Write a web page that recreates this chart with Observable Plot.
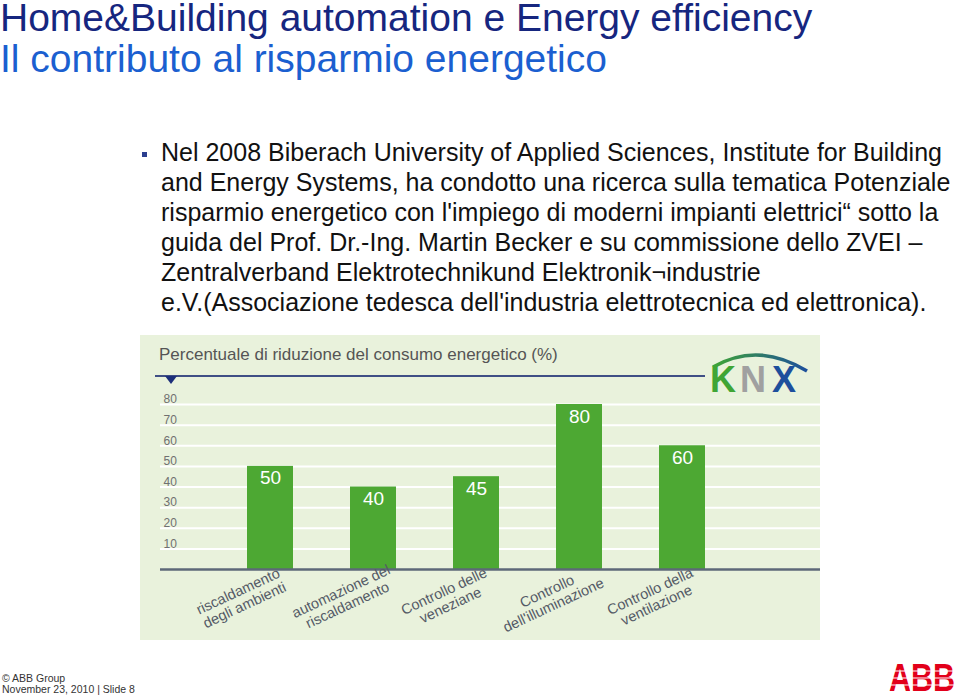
<!DOCTYPE html>
<html>
<head>
<meta charset="utf-8">
<script src="https://cdn.jsdelivr.net/npm/d3@7"></script>
<script src="https://cdn.jsdelivr.net/npm/@observablehq/plot@0.6"></script>
<style>
  html, body { margin: 0; padding: 0; background: #fff; }
  body { width: 960px; height: 697px; position: relative; overflow: hidden; font-family: "Liberation Sans", Arial, sans-serif; }
  .t1, .t2 { position: absolute; left: 0; font-size: 39px; line-height: 36px; white-space: nowrap; }
  .t1 { top: 0; color: #16267f; }
  .t2 { top: 41px; color: #1b5fd0; }
  .bullet { position: absolute; left: 161px; top: 137px; font-size: 25px; line-height: 30px; color: #111; white-space: nowrap; }
  .sq { position: absolute; left: 142px; top: 152px; width: 5px; height: 5px; background: #2b3f8f; }
  .chartbox { position: absolute; left: 140px; top: 335px; width: 680px; height: 305px; background: #e9f2dc; }
  .ctitle { position: absolute; left: 19px; top: 10px; font-size: 17px; color: #555; white-space: nowrap; }
  .cline { position: absolute; left: 15px; top: 40px; width: 550px; height: 2px; background: #3f4f85; }
  .tri { position: absolute; left: 25px; top: 41px; width: 0; height: 0; border-left: 6px solid transparent; border-right: 6px solid transparent; border-top: 8px solid #1c2f7a; }
  .plot { position: absolute; left: 0; top: 0; }
  .knx { position: absolute; left: 570px; top: 14px; overflow: visible; }
  .foot { position: absolute; left: 2px; top: 673px; font-size: 10.5px; line-height: 11px; color: #333; }
  .abb { position: absolute; left: 889px; top: 660px; overflow: visible; }
</style>
</head>
<body>
<div class="t1">Home&amp;Building automation e Energy efficiency</div>
<div class="t2">Il contributo al risparmio energetico</div>
<div class="sq"></div>
<div class="bullet">Nel 2008 Biberach University of Applied Sciences, Institute for Building<br>and Energy Systems, ha condotto una ricerca sulla tematica Potenziale<br>risparmio energetico con l'impiego di moderni impianti elettrici“ sotto la<br>guida del Prof. Dr.-Ing. Martin Becker e su commissione dello ZVEI –<br>Zentralverband Elektrotechnikund Elektronik¬industrie<br>e.V.(Associazione tedesca dell'industria elettrotecnica ed elettronica).</div>
<div class="chartbox" id="chartbox">
  <div class="ctitle">Percentuale di riduzione del consumo energetico (%)</div>
  <div class="cline"></div>
  <div class="tri"></div>
  <svg class="knx" width="100" height="46" viewBox="0 0 100 46">
    <defs><linearGradient id="arc" x1="0" x2="1" y1="0" y2="0"><stop offset="0" stop-color="#3fa535"/><stop offset="1" stop-color="#1d4f9c"/></linearGradient></defs>
    <path d="M3 18 Q48 -8 97 22" fill="none" stroke="url(#arc)" stroke-width="3.5"/>
    <text x="0" y="43" font-family="Liberation Sans, Arial" font-weight="bold" font-size="36" fill="#3fa535">K</text>
    <text x="30" y="43" font-family="Liberation Sans, Arial" font-weight="bold" font-size="36" fill="#a0a0a0">N</text>
    <text x="62" y="43" font-family="Liberation Sans, Arial" font-weight="bold" font-size="36" fill="#1d4f9c">X</text>
  </svg>
</div>
<div class="foot">© ABB Group<br>November 23, 2010 | Slide 8</div>
<svg class="abb" width="68" height="34" viewBox="0 0 68 34">
  <text x="0" y="31" font-family="Liberation Sans, Arial" font-weight="bold" font-size="38" fill="#e2001a" textLength="66" lengthAdjust="spacingAndGlyphs">ABB</text>
  <line x1="0" y1="11" x2="68" y2="11" stroke="#fff" stroke-width="1.2"/>
  <line x1="0" y1="18" x2="68" y2="18" stroke="#fff" stroke-width="1.2"/>
  <line x1="0" y1="25" x2="68" y2="25" stroke="#fff" stroke-width="1.2"/>
  <line x1="22" y1="0" x2="22" y2="34" stroke="#fff" stroke-width="1.2"/>
  <line x1="44" y1="0" x2="44" y2="34" stroke="#fff" stroke-width="1.2"/>
</svg>
<script>
const categories = [
  "riscaldamento\ndegli ambienti",
  "automazione del\nriscaldamento",
  "Controllo delle\nveneziane",
  "Controllo\ndell'illuminazione",
  "Controllo della\nventilazione"
];
const values = [50, 40, 45, 80, 60];
const yTicks = [10, 20, 30, 40, 50, 60, 70, 80];

const data = categories.map((c, i) => ({cat: c, value: values[i]}));

const chart = Plot.plot({
  width: 680,
  height: 305,
  marginLeft: 20,
  marginRight: 0,
  marginTop: 69,
  marginBottom: 71,
  style: {background: "transparent", fontFamily: "Liberation Sans, Arial, sans-serif"},
  x: {domain: categories, paddingInner: 0.556, paddingOuter: 0.96, align: 0.432, axis: null},
  y: {domain: [0, 80], axis: null},
  marks: [
    Plot.ruleY(yTicks, {stroke: "#ffffff", strokeWidth: 2}),
    Plot.axisY({ticks: yTicks, label: null, tickSize: 0, tickPadding: 0, textAnchor: "start", dx: 3, dy: -5, fill: "#707070", fontSize: 12}),
    Plot.barY(data, {x: "cat", y: "value", fill: "#4da833"}),
    Plot.ruleY([0], {stroke: "#5d6878", strokeWidth: 2.5}),
    Plot.text(data, {x: "cat", y: "value", text: d => String(d.value), dy: 12, fill: "#ffffff", fontSize: 19}),
    Plot.text(data, {x: "cat", text: "cat", frameAnchor: "bottom", dx: -24, dy: 40, rotate: -25, fill: "#545a66", fontSize: 14.5, lineHeight: 1.05})
  ]
});
chart.classList.add("plot");
document.getElementById("chartbox").appendChild(chart);
</script>
</body>
</html>
